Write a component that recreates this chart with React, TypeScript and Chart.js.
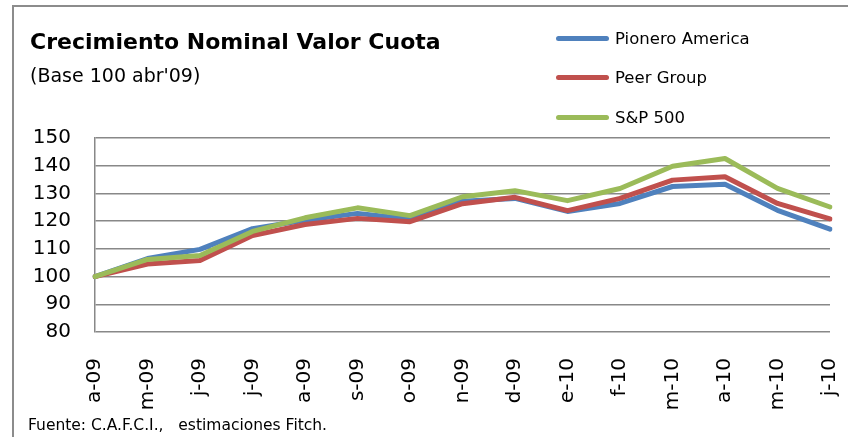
import React, { useEffect, useRef } from "react";
import { Chart, registerables } from "chart.js";

Chart.register(...registerables);

const categories = ["a-09", "m-09", "j-09", "j-09", "a-09", "s-09", "o-09", "n-09", "d-09", "e-10", "f-10", "m-10", "a-10", "m-10", "j-10"];
const pioneroAmerica = [100, 106.5, 109.8, 117.3, 120.3, 122.8, 120.8, 127.2, 128.2, 123.5, 126.4, 132.5, 133.3, 123.9, 117.1];
const peerGroup = [100, 104.5, 105.8, 114.8, 118.8, 121.0, 119.8, 126.3, 128.6, 123.8, 128.2, 134.8, 136.0, 126.4, 120.8];
const sp500 = [100, 106.2, 107.6, 116.3, 121.2, 124.8, 122.0, 128.8, 131.0, 127.4, 131.8, 139.8, 142.6, 131.8, 125.1];
const seriesNames = ["Pionero America", "Peer Group", "S&P 500"];
const seriesColors = ["#4F81BD", "#C0504D", "#9BBB59"];
const yMin = 80;
const yMax = 150;
const yStep = 10;
const titleText = "Crecimiento Nominal Valor Cuota";
const subtitleText = "(Base 100 abr'09)";
const footerText = "Fuente: C.A.F.C.I.,   estimaciones Fitch.";

const FONT = "'DejaVu Sans', sans-serif";

export default function App() {
  const ref = useRef<HTMLCanvasElement>(null);
  useEffect(() => {
    const values = [pioneroAmerica, peerGroup, sp500];
    const chart = new Chart(ref.current!, {
      type: "line",
      data: {
        labels: categories,
        datasets: values.map((v, i) => ({
          label: seriesNames[i],
          data: v,
          borderColor: seriesColors[i],
          backgroundColor: seriesColors[i],
          borderWidth: 5,
          pointRadius: 0,
          tension: 0,
          fill: false,
          borderCapStyle: "round" as const,
          borderJoinStyle: "round" as const,
          order: 2 - i,
        })),
      },
      options: {
        responsive: false,
        animation: false,
        layout: { padding: { top: 138, right: 18, bottom: 0, left: 0 } },
        plugins: { legend: { display: false }, tooltip: { enabled: false } },
        scales: {
          x: {
            offset: false,
            grid: { display: false, drawTicks: false },
            border: { display: false },
            ticks: {
              minRotation: 90,
              maxRotation: 90,
              autoSkip: false,
              padding: 26,
              color: "#000",
              font: { family: FONT, size: 20 },
            },
            afterFit: (s: any) => {
              s.height = 105;
              s.paddingLeft = 0;
              s.paddingRight = 0;
            },
          },
          y: {
            min: yMin,
            max: yMax,
            ticks: { stepSize: yStep, padding: 24, color: "#000", font: { family: FONT, size: 20 } },
            grid: { color: "#888", lineWidth: 1.5, drawTicks: false },
            border: { display: true, color: "#888", width: 1.5 },
            afterFit: (s: any) => {
              s.width = 95;
            },
          },
        },
      },
    });
    return () => chart.destroy();
  }, []);

  return (
    <div style={{ position: "fixed", left: 0, top: 0, width: 848, height: 437, background: "#fff", overflow: "hidden", fontFamily: FONT }}>
      <div style={{ position: "absolute", left: 12, top: 5, width: 840, height: 440, borderTop: "2px solid #8c8c8c", borderLeft: "2px solid #8c8c8c" }} />
      <canvas ref={ref} width={848} height={437} style={{ position: "absolute", left: 0, top: 0 }} />
      <div style={{ position: "absolute", left: 30, top: 29, fontSize: 22, fontWeight: "bold", lineHeight: "26px", whiteSpace: "nowrap", color: "#000" }}>{titleText}</div>
      <div style={{ position: "absolute", left: 30, top: 63, fontSize: 19, lineHeight: "24px", whiteSpace: "nowrap", color: "#000" }}>{subtitleText}</div>
      {seriesNames.map((n, i) => (
        <div key={n} style={{ position: "absolute", left: 556, top: [38, 77, 117][i] - 11, height: 22, display: "flex", alignItems: "center" }}>
          <div style={{ width: 53, height: 5, borderRadius: 3, background: seriesColors[i] }} />
          <div style={{ marginLeft: 6, fontSize: 16.5, whiteSpace: "nowrap", color: "#000" }}>{n}</div>
        </div>
      ))}
      <div style={{ position: "absolute", left: 28, top: 416, fontSize: 15.5, lineHeight: "18px", whiteSpace: "pre", color: "#000" }}>{footerText}</div>
    </div>
  );
}
